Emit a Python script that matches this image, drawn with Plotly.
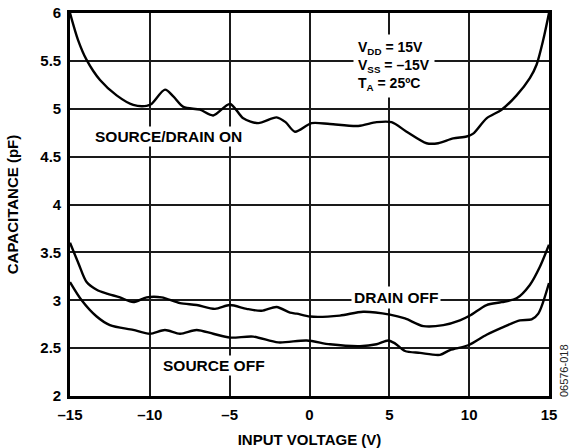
import plotly.graph_objects as go

# Input voltage (V) and capacitance (pF)
on_v = [-15, -14.5, -13.96, -13.12, -12.08, -11.04, -10.2, -9.9, -9.05, -8.53, -7.9, -6.86, -6.03,
        -4.98, -4.15, -3.21, -2.06, -1.5, -0.91, 0.13, 1.28, 3.05, 4.2, 5.14, 6.08, 7.33, 8.06,
        9.0, 9.84, 10.25, 11.09, 12.03, 12.97, 13.8, 14.22, 14.64, 15]
on_c = [6.0, 5.72, 5.51, 5.30, 5.14, 5.04, 5.03, 5.05, 5.20, 5.13, 5.02, 4.99, 4.93,
        5.05, 4.90, 4.85, 4.91, 4.86, 4.76, 4.85, 4.84, 4.82, 4.86, 4.86, 4.76, 4.64, 4.64,
        4.69, 4.71, 4.74, 4.90, 4.99, 5.14, 5.32, 5.46, 5.72, 6.0]

drain_v = [-15, -14.48, -13.96, -13.33, -12.7, -11.87, -11.04, -10.2, -9.26, -8.11, -7.07, -5.92,
           -4.98, -3.94, -3.0, -2.06, -1.22, -0.8, 0.03, 1.9, 3.36, 5.04, 5.98, 7.13, 8.38,
           9.42, 10.05, 11.09, 12.03, 12.97, 13.8, 14.43, 15]
drain_c = [3.6, 3.39, 3.19, 3.11, 3.07, 3.03, 2.98, 3.03, 3.03, 2.97, 2.95, 2.91,
           2.95, 2.91, 2.89, 2.93, 2.87, 2.86, 2.83, 2.84, 2.88, 2.85, 2.81, 2.73, 2.74,
           2.79, 2.84, 2.95, 2.98, 3.02, 3.16, 3.35, 3.58]

source_v = [-15, -14.27, -13.33, -12.5, -11.04, -10.0, -9.05, -8.11, -7.07, -6.03, -4.98, -3.52,
            -1.96, -0.18, 1.28, 3.16, 4.2, 4.93, 5.35, 5.98, 6.92, 8.17, 8.8, 9.94, 11.09,
            12.13, 13.18, 13.91, 14.33, 15]
source_c = [3.19, 3.0, 2.83, 2.74, 2.69, 2.65, 2.69, 2.65, 2.69, 2.65, 2.61, 2.62,
            2.56, 2.58, 2.54, 2.52, 2.54, 2.58, 2.55, 2.47, 2.45, 2.43, 2.48, 2.53, 2.64,
            2.72, 2.79, 2.80, 2.86, 3.18]

x_ticks = [-15, -10, -5, 0, 5, 10, 15]
x_tick_text = ["–15", "–10", "–5", "0", "5", "10", "15"]
y_ticks = [2, 2.5, 3, 3.5, 4, 4.5, 5, 5.5, 6]
y_tick_text = ["2", "2.5", "3", "3.5", "4", "4.5", "5", "5.5", "6"]

FONT = "Liberation Sans, Arial, sans-serif"

fig = go.Figure()
for xs, ys in [(on_v, on_c), (drain_v, drain_c), (source_v, source_c)]:
    fig.add_trace(go.Scatter(x=xs, y=ys, mode="lines",
                             line=dict(color="black", width=2.4, shape="spline", smoothing=0.8),
                             showlegend=False, hoverinfo="skip"))

fig.update_layout(
    width=571, height=448,
    margin=dict(l=70, r=22, t=13, b=52, autoexpand=False),
    paper_bgcolor="white", plot_bgcolor="white",
    font=dict(family=FONT, color="black"),
)
axis_common = dict(
    showgrid=True, gridcolor="#1a1a1a", gridwidth=2,
    showline=True, linecolor="black", linewidth=2.6, mirror=True,
    zeroline=False, ticks="outside", tickcolor="rgba(0,0,0,0)",
    tickfont=dict(family=FONT, size=15, color="black"),
    automargin=False,
)
fig.update_xaxes(
    range=[-15, 15], tickmode="array", tickvals=x_ticks,
    ticktext=["<b>%s</b>" % t for t in x_tick_text], ticklen=3,
    title=dict(text="<b>INPUT VOLTAGE (V)</b>", font=dict(family=FONT, size=15), standoff=17),
    **axis_common,
)
fig.update_yaxes(
    range=[2, 6], tickmode="array", tickvals=y_ticks,
    ticktext=["<b>%s</b>" % t for t in y_tick_text], ticklen=3,
    title=dict(text="<b>CAPACITANCE (pF)</b>", font=dict(family=FONT, size=15), standoff=19),
    **axis_common,
)

lbl = dict(family=FONT, size=15.5, color="black")
fig.add_annotation(x=-8.8, y=4.71, text="<b>SOURCE/DRAIN ON</b>", showarrow=False, font=lbl, bgcolor="white")
fig.add_annotation(x=5.4, y=3.03, text="<b>DRAIN OFF</b>", showarrow=False, font=lbl, bgcolor="white", borderpad=2)
fig.add_annotation(x=-6.0, y=2.32, text="<b>SOURCE OFF</b>", showarrow=False, font=lbl, bgcolor="white")
fig.add_annotation(
    x=2.75, y=5.45, xanchor="left", yanchor="middle", align="left",
    text="<b>V<sub>DD</sub> = 15V<br>V<sub>SS</sub> = –15V<br>T<sub>A</sub> = 25ºC</b>",
    showarrow=False, font=dict(family=FONT, size=14, color="black"), bgcolor="white", borderpad=4,
)
fig.add_annotation(
    xref="paper", yref="paper", x=1.0, y=0.065, xanchor="center", yanchor="middle",
    xshift=15,
    text="06576-018", textangle=-90, showarrow=False,
    font=dict(family=FONT, size=11, color="#222222"),
)

fig.write_html("out.html", config={"displayModeBar": False},
               post_script="document.body.style.margin='0';")
